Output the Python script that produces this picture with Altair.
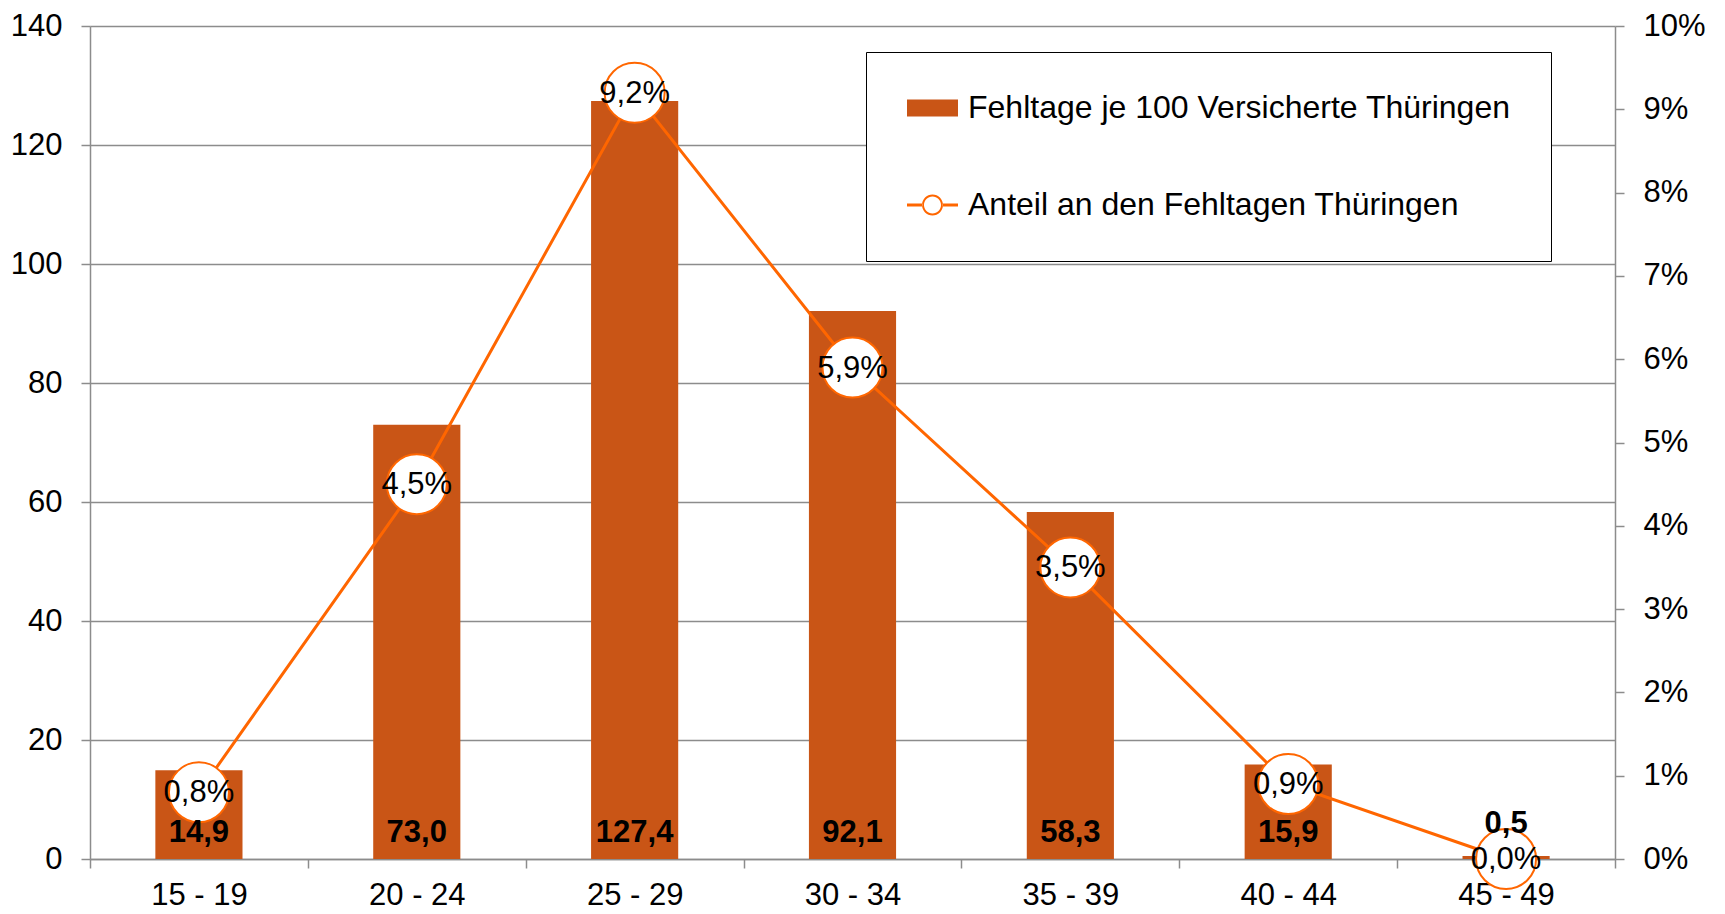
import altair as alt
import pandas as pd

categories = ["15 - 19", "20 - 24", "25 - 29", "30 - 34", "35 - 39", "40 - 44", "45 - 49"]
fehltage = [14.9, 73.0, 127.4, 92.1, 58.3, 15.9, 0.5]
anteil = [0.008, 0.045, 0.092, 0.059, 0.035, 0.009, 0.0]
series_names = ["Fehltage je 100 Versicherte Thüringen", "Anteil an den Fehltagen Thüringen"]
left_ticks = [0, 20, 40, 60, 80, 100, 120, 140]
right_ticks = [0, 0.01, 0.02, 0.03, 0.04, 0.05, 0.06, 0.07, 0.08, 0.09, 0.10]

BAR = "#C95516"
LINE = "#FF6600"
GRAY = "#8C8C8C"
FONT = "Liberation Sans"
FS = 31

df = pd.DataFrame({
    "Alter": categories,
    "Fehltage": fehltage,
    "Anteil": anteil,
    "FLabel": [f"{v:.1f}".replace(".", ",") for v in fehltage],
    "ALabel": [f"{v * 100:.1f}".replace(".", ",") + "%" for v in anteil],
})

x_enc = alt.X(
    "Alter:N", sort=categories,
    scale=alt.Scale(paddingInner=0, paddingOuter=0),
    axis=alt.Axis(title=None, labelAngle=0, tickBand="extent", labelPadding=12,
                  tickSize=9, grid=False),
)

base = alt.Chart(df).encode(x=x_enc)

s0, s1 = series_names
# legend symbols: a filled swatch, and a line with an open ring (drawn as fills)
P0 = "M-1,-0.567H2.4V0.567H-1Z"
P1 = ("M-1,-0.1H0.02V0.1H-1Z M1.38,-0.1H2.4V0.1H1.38Z "
      "M1.4,0A0.7,0.7,0,1,0,0,0A0.7,0.7,0,1,0,1.4,0Z "
      "M1.267,0A0.567,0.567,0,1,1,0.133,0A0.567,0.567,0,1,1,1.267,0Z")

legend = alt.Legend(
    title=None, orient="none", legendX=776, legendY=26, padding=40,
    strokeColor="black", fillColor="white",
    labelFont=FONT, labelFontSize=32, labelColor="black", labelLimit=0,
    rowPadding=65, labelOffset=30, symbolSize=900,
    symbolType={"expr": f"datum.value === '{s0}' ? '{P0}' : '{P1}'"},
    symbolStrokeWidth=0, symbolOpacity=1,
)
color_scale = alt.Scale(domain=series_names, range=[BAR, LINE])

left_scale = alt.Scale(domain=[0, 140], nice=False, zero=True)
right_scale = alt.Scale(domain=[0, 0.10], nice=False, zero=True)

bars = base.transform_calculate(series=f"'{s0}'").mark_bar(
    width=alt.RelativeBandSize(0.4)).encode(
    y=alt.Y("Fehltage:Q", scale=left_scale,
            axis=alt.Axis(orient="left", values=left_ticks, grid=True, title=None,
                          labelPadding=19, tickSize=9)),
    color=alt.Color("series:N", scale=color_scale, legend=legend),
)

line = base.transform_calculate(series=f"'{s1}'").mark_line(strokeWidth=3).encode(
    y=alt.Y("Anteil:Q", scale=right_scale,
            axis=alt.Axis(orient="right", values=right_ticks, format=".0%", grid=False,
                          title=None, labelPadding=19, tickSize=9)),
    color=alt.Color("series:N", scale=color_scale, legend=legend),
)
points = base.mark_circle(fill="white", stroke=LINE, strokeWidth=2, size=3600,
                          opacity=1, fillOpacity=1).encode(y=alt.Y("Anteil:Q"))
pct = base.mark_text(font=FONT, fontSize=FS, baseline="middle", dy=1,
                     color="black").encode(y=alt.Y("Anteil:Q"), text="ALabel:N")
right_layer = alt.layer(line, points, pct)

lab_in = base.transform_filter("datum.Fehltage >= 5").mark_text(
    font=FONT, fontSize=FS, fontWeight="bold", baseline="alphabetic", dy=-17,
    color="black").encode(
    y=alt.YDatum(0, type="quantitative", scale=left_scale, axis=None),
    text="FLabel:N")
lab_small = base.transform_filter("datum.Fehltage < 5").mark_text(
    font=FONT, fontSize=FS, fontWeight="bold", baseline="alphabetic", dy=-23,
    color="black").encode(
    y=alt.Y("Fehltage:Q", scale=left_scale, axis=None),
    text="FLabel:N")
labels_layer = alt.layer(lab_in, lab_small)

chart = alt.layer(bars, right_layer, labels_layer).resolve_scale(
    y="independent"
).properties(
    width=1525, height=833,
    autosize=alt.AutoSizeParams(type="none"),
    padding={"left": 82, "top": 18, "right": 102, "bottom": 55},
).configure_view(stroke=None).configure_axis(
    labelFont=FONT, labelFontSize=FS, labelColor="black",
    domainColor=GRAY, tickColor=GRAY, gridColor=GRAY,
    domainWidth=1.5, tickWidth=1.5, gridWidth=1.5,
)

chart.save("out.html", embed_options={"renderer": "svg", "actions": False})
